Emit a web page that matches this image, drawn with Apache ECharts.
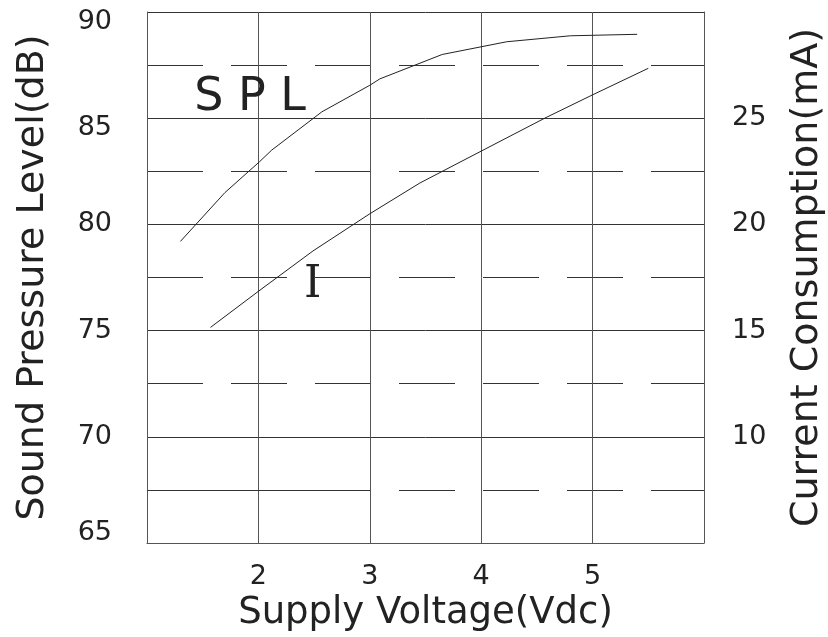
<!DOCTYPE html>
<html>
<head>
<meta charset="utf-8">
<script src="https://cdn.jsdelivr.net/npm/echarts@6/dist/echarts.min.js"></script>
<style>
html, body { margin: 0; padding: 0; background: #fff; }
#app { width: 828px; height: 637px; }
</style>
</head>
<body>
<div id="app"></div>
<script>
// supply voltage (Vdc) -> sound pressure level (dB), left axis
var splVoltage = [1.30, 1.70, 2.01, 2.12, 2.57, 3.00, 3.09, 3.65, 4.23, 4.80, 5.40];
var splValues  = [79.2, 81.5, 82.95, 83.5, 85.3, 86.55, 86.85, 88.0, 88.6, 88.88, 88.95];

// supply voltage (Vdc) -> current consumption (mA), right axis
var curVoltage = [1.57, 2.00, 2.49, 3.00, 3.45, 4.00, 4.57, 5.00, 5.50];
var curValues  = [15.15, 16.85, 18.75, 20.5, 21.95, 23.45, 25.0, 26.1, 27.35];

var xTicks = [2, 3, 4, 5];
var leftTicks = [65, 70, 75, 80, 85, 90];
var rightTicks = [10, 15, 20, 25];

function pairs(xs, ys) {
    var out = [];
    for (var i = 0; i < xs.length; i++) {
        out.push([xs[i], ys[i]]);
    }
    return out;
}

window.onload = function() {
    var myChart = echarts.init(document.getElementById('app'));
    var font = 'DejaVu Sans';
    var textColor = '#222';
    var option = {
        animation: false,
        backgroundColor: '#fff',
        grid: {
            left: 147,
            right: 124,
            top: 12,
            bottom: 94,
            outerBoundsMode: 'none',
            containLabel: false
        },
        xAxis: {
            type: 'value',
            min: 1,
            max: 6,
            interval: 1,
            name: 'Supply Voltage(Vdc)',
            nameLocation: 'middle',
            nameGap: 48,
            nameTextStyle: { fontFamily: font, fontSize: 37, color: textColor },
            axisLine: { show: true, lineStyle: { color: '#555', width: 1 } },
            axisTick: { show: false },
            axisLabel: {
                margin: 20,
                fontFamily: font,
                fontSize: 27,
                color: textColor,
                formatter: function(v) {
                    return xTicks.indexOf(v) >= 0 ? String(v) : '';
                }
            },
            splitLine: { show: true, lineStyle: { color: '#555', width: 1 } }
        },
        yAxis: [{
            type: 'value',
            min: 65,
            max: 90,
            interval: 5,
            name: 'Sound Pressure Level(dB)',
            nameLocation: 'middle',
            nameGap: 95,
            nameTextStyle: { fontFamily: font, fontSize: 38, color: textColor },
            axisLine: { show: true, lineStyle: { color: '#555', width: 1 } },
            axisTick: { show: false },
            axisLabel: {
                margin: 35,
                fontFamily: font,
                fontSize: 27,
                lineHeight: 20,
                color: textColor,
                formatter: function(v) {
                    if (leftTicks.indexOf(v) < 0) return '';
                    // the printed labels sit a little off their grid lines
                    if (v >= 85) return '\n' + v;
                    if (v === 65) return v + '\n';
                    return String(v);
                }
            },
            splitLine: { show: true, lineStyle: { color: '#333', width: 1 } },
            minorTick: { show: false, splitNumber: 2 },
            minorSplitLine: {
                show: true,
                lineStyle: { color: '#333', width: 1, type: [56, 28] }
            }
        }, {
            type: 'value',
            min: 5,
            max: 30,
            interval: 5,
            position: 'right',
            name: 'Current Consumption(mA)',
            nameLocation: 'middle',
            nameGap: 84,
            nameTextStyle: { fontFamily: font, fontSize: 38, color: textColor },
            axisLine: { show: true, lineStyle: { color: '#555', width: 1 } },
            axisTick: { show: false },
            axisLabel: {
                margin: 28,
                fontFamily: font,
                fontSize: 27,
                color: textColor,
                formatter: function(v) {
                    return rightTicks.indexOf(v) >= 0 ? String(v) : '';
                }
            },
            splitLine: { show: false }
        }],
        series: [{
            name: 'SPL',
            type: 'line',
            yAxisIndex: 0,
            data: pairs(splVoltage, splValues),
            showSymbol: false,
            symbol: 'none',
            lineStyle: { color: '#222', width: 1 },
            markPoint: {
                symbol: 'circle',
                symbolSize: 0,
                silent: true,
                label: {
                    show: true,
                    position: 'inside',
                    formatter: '{b}',
                    fontFamily: font,
                    fontSize: 46,
                    color: textColor
                },
                data: [{ name: 'S P L', coord: [1.925, 85.94] }]
            },
            markLine: {
                symbol: ['none', 'none'],
                silent: true,
                label: { show: false },
                lineStyle: { color: '#333', width: 1, type: 'solid' },
                data: [[{ coord: [1, 67.5] }, { coord: [3, 67.5] }]]
            }
        }, {
            name: 'I',
            type: 'line',
            yAxisIndex: 1,
            data: pairs(curVoltage, curValues),
            showSymbol: false,
            symbol: 'none',
            lineStyle: { color: '#222', width: 1 },
            markPoint: {
                symbol: 'circle',
                symbolSize: 0,
                silent: true,
                label: {
                    show: true,
                    position: 'inside',
                    formatter: '{b}',
                    fontFamily: 'DejaVu Serif',
                    fontSize: 44,
                    color: textColor
                },
                data: [{ name: 'I', coord: [2.487, 17.1] }]
            }
        }]
    };
    myChart.setOption(option);
};
</script>
</body>
</html>
